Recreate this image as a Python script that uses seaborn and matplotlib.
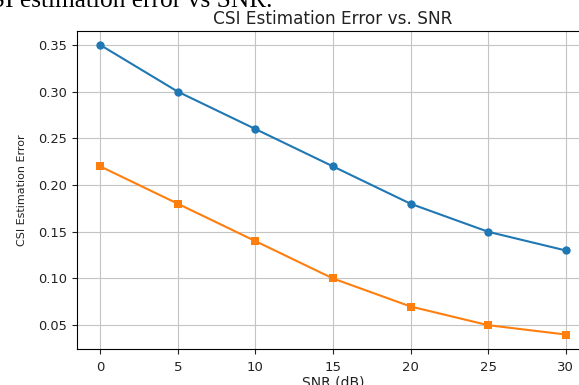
import matplotlib
matplotlib.use("Agg")
import matplotlib.pyplot as plt
import seaborn as sns
import pandas as pd

snr_db = [0, 5, 10, 15, 20, 25, 30]
error_a = [0.35, 0.30, 0.26, 0.22, 0.18, 0.15, 0.13]
error_b = [0.22, 0.18, 0.14, 0.10, 0.07, 0.05, 0.04]
y_ticks = [0.05, 0.10, 0.15, 0.20, 0.25, 0.30, 0.35]

df = pd.DataFrame({"snr": snr_db, "a": error_a, "b": error_b})

fig = plt.figure(figsize=(5.79, 3.85), dpi=100)
ax = fig.add_axes([77/579, 36/385, (589-77)/579, (349-30.5)/385])

sns.lineplot(data=df, x="snr", y="a", marker="o", color="#1f77b4",
             markersize=6, markeredgewidth=0, linewidth=1.5, ax=ax)
sns.lineplot(data=df, x="snr", y="b", marker="s", color="#ff7f0e",
             markersize=6, markeredgewidth=0, linewidth=1.5, ax=ax)

ax.grid(True, color="#c4c4c4", linewidth=0.8)
ax.set_axisbelow(True)
ax.set_xticks(snr_db)
ax.set_yticks(y_ticks)
ax.set_yticklabels([f"{v:.2f}" for v in y_ticks])
ax.tick_params(axis="x", labelsize=9.5, pad=5, colors="#222222")
ax.tick_params(axis="y", labelsize=9.4, colors="#222222")
ax.set_title("CSI Estimation Error vs. SNR", fontsize=12.2, pad=5, color="#222222")
ax.set_xlabel("SNR (dB)", fontsize=10, labelpad=1, color="#222222")
ax.set_ylabel("CSI Estimation Error", fontsize=8, labelpad=8, color="#222222")
ax.margins(x=0.05, y=0.05)

fig.text(-26/579, 1 - 7/385, "CSI estimation error vs SNR.", family="Liberation Serif",
         fontsize=18.3, ha="left", va="baseline", color="black")

fig.savefig("out.png", dpi=100)
